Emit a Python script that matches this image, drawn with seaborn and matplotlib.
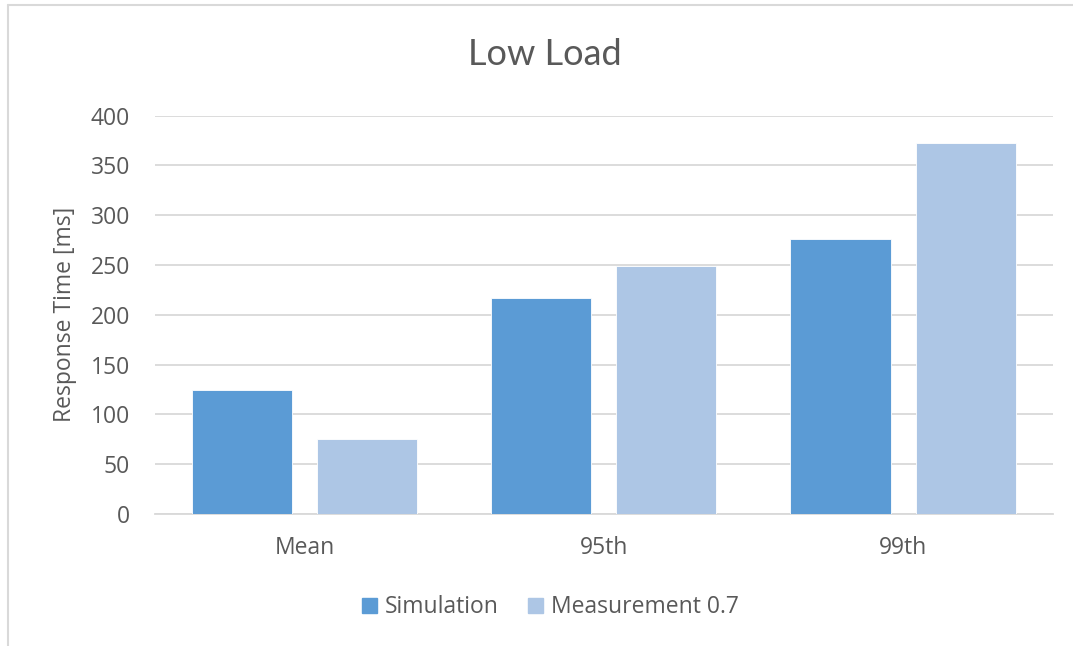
import matplotlib
matplotlib.use("Agg")
import matplotlib.pyplot as plt
import seaborn as sns
import pandas as pd
from matplotlib.patches import Rectangle
from matplotlib.lines import Line2D

# Response time statistics (ms)
categories = ["Mean", "95th", "99th"]
series_names = ["Simulation", "Measurement 0.7"]
simulation = [125, 217, 276]
measurement = [75, 249, 373]
y_ticks = [0, 50, 100, 150, 200, 250, 300, 350, 400]

df = pd.DataFrame({
    "stat": categories * 2,
    "series": [series_names[0]] * 3 + [series_names[1]] * 3,
    "value": simulation + measurement,
})

sns.set_theme(style="white")
plt.rcParams["font.family"] = ["Open Sans", "DejaVu Sans"]

text_grey = "#595959"
palette = {"Simulation": "#5B9BD5", "Measurement 0.7": "#ADC6E5"}
fs = 16.5

fig = plt.figure(figsize=(10.73, 6.46), dpi=100)
ax = fig.add_axes([0.1445, 0.2043, 0.8365, 0.6167])

sns.barplot(data=df, x="stat", y="value", hue="series", order=categories,
            hue_order=series_names, palette=palette, width=0.836, gap=0.2,
            saturation=1, ax=ax, legend=False, zorder=3)

for bar in ax.patches:
    bar.set_edgecolor("#FFFFFF")
    bar.set_linewidth(0.6)

ax.set_ylim(0, 400)
ax.set_yticks(y_ticks)
ax.set_yticklabels([str(t) for t in y_ticks])
ax.yaxis.grid(True, color="#D9D9D9", linewidth=1.3, zorder=0)
ax.set_axisbelow(True)
for side in ["top", "right", "left"]:
    ax.spines[side].set_visible(False)
ax.spines["bottom"].set_color("#D9D9D9")
ax.spines["bottom"].set_linewidth(1.3)
ax.tick_params(axis="y", length=0, labelsize=fs, colors=text_grey, pad=18)
ax.tick_params(axis="x", length=0, labelsize=fs, colors=text_grey, pad=16)
ax.set_xlabel("")
ax.set_ylabel("Response Time [ms]", fontsize=fs, color=text_grey, labelpad=10)

fig.text(0.508, 0.915, "Low Load", ha="center", va="center",
         fontsize=26, color=text_grey, family=["Lato", "DejaVu Sans"])

handles = [Rectangle((0, 0), 1, 1, color=palette[s]) for s in series_names]
fig.legend(handles, series_names, loc="center", bbox_to_anchor=(0.513, 0.06),
           ncol=2, frameon=False, fontsize=fs, labelcolor=text_grey,
           handlelength=0.65, handleheight=0.65, handletextpad=0.35,
           columnspacing=1.3)

# Chart-area border (top and left edges)
fig.lines.append(Line2D([0.0075, 1.0], [0.9915, 0.9915], transform=fig.transFigure,
                        color="#D9D9D9", linewidth=1.5))
fig.lines.append(Line2D([0.0075, 0.0075], [0.0, 0.9915], transform=fig.transFigure,
                        color="#D9D9D9", linewidth=1.5))

fig.savefig("out.png", dpi=100)
